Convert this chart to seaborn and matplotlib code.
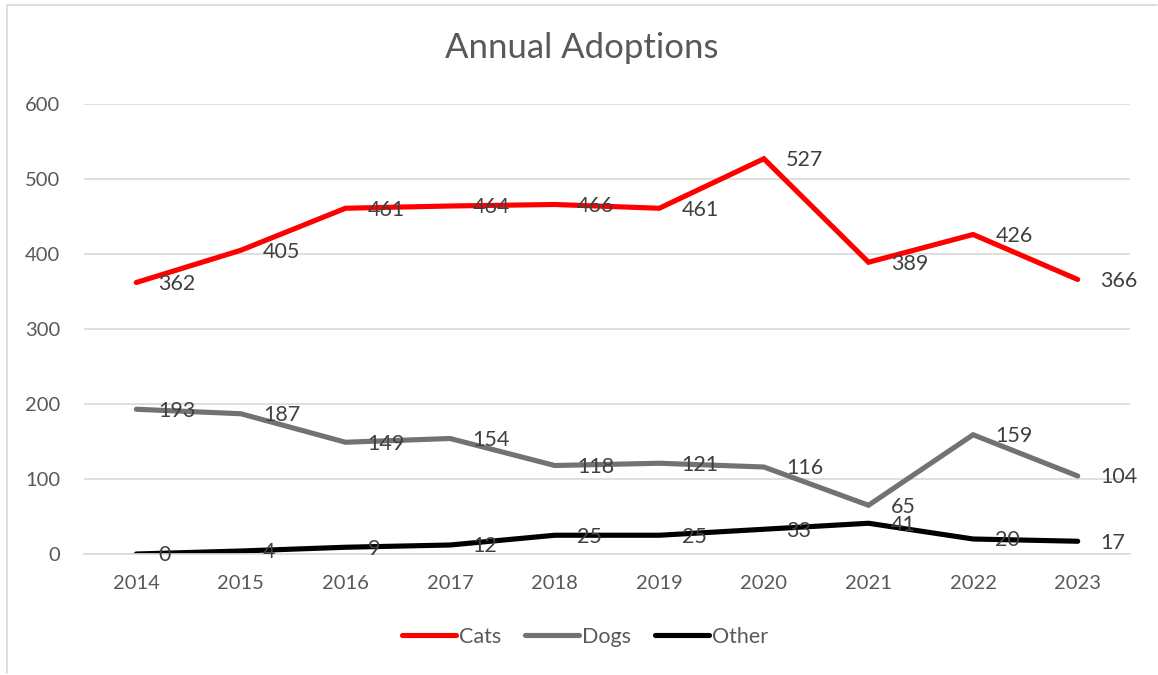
import matplotlib
matplotlib.use("Agg")
import matplotlib.pyplot as plt
import seaborn as sns
import pandas as pd
from matplotlib.lines import Line2D

years = ["2014", "2015", "2016", "2017", "2018", "2019", "2020", "2021", "2022", "2023"]
cats = [362, 405, 461, 464, 466, 461, 527, 389, 426, 366]
dogs = [193, 187, 149, 154, 118, 121, 116, 65, 159, 104]
other = [0, 4, 9, 12, 25, 25, 33, 41, 20, 17]
series_names = ["Cats", "Dogs", "Other"]
colors = ["#FF0000", "#767171", "#000000"]
y_ticks = [0, 100, 200, 300, 400, 500, 600]

sns.set_theme(style="white")
plt.rcParams["font.family"] = ["Lato", "DejaVu Sans"]

W, H = 1158, 675
fig = plt.figure(figsize=(W / 100, H / 100), dpi=100)
ax = fig.add_axes([84 / W, 1 - 554 / H, (1130 - 84) / W, (554 - 104) / H])

rows = []
for name, vals in zip(series_names, [cats, dogs, other]):
    for i, v in enumerate(vals):
        rows.append({"idx": i, "value": v, "series": name})
df = pd.DataFrame(rows)

sns.lineplot(data=df, x="idx", y="value", hue="series", palette=colors,
             linewidth=3.7, ax=ax, legend=False, sort=False)
for ln in ax.get_lines():
    ln.set_solid_capstyle("round")
    ln.set_solid_joinstyle("miter")

for vals in [cats, dogs, other]:
    for i, v in enumerate(vals):
        ax.annotate(str(v), (i, v), xytext=(16, -1), textcoords="offset points",
                    ha="left", va="center", fontsize=15.5, color="#404040")

ax.set_xlim(-0.5, len(years) - 0.5)
ax.set_ylim(0, 600)
ax.set_yticks(y_ticks)
ax.set_yticklabels([str(t) for t in y_ticks])
ax.set_xticks(range(len(years)))
ax.set_xticklabels(years)
ax.tick_params(axis="both", length=0, labelsize=14.5, labelcolor="#595959")
ax.tick_params(axis="y", pad=17)
ax.tick_params(axis="x", pad=15)
ax.grid(axis="y", color="#D9D9D9", linewidth=1.2)
ax.set_axisbelow(True)
for s in ["top", "right", "left"]:
    ax.spines[s].set_visible(False)
ax.spines["bottom"].set_color("#D9D9D9")
ax.spines["bottom"].set_linewidth(1.2)
ax.set_xlabel("")
ax.set_ylabel("")

fig.text(582 / W, 1 - 48 / H, "Annual Adoptions", ha="center", va="center",
         fontsize=25, color="#595959")

handles = [Line2D([0], [0], color=c, linewidth=3.7, solid_capstyle="round") for c in colors]
fig.legend(handles, series_names, loc="center", bbox_to_anchor=(585 / W, 1 - 637 / H),
           ncol=3, frameon=False, fontsize=15.5, handlelength=2.5, handletextpad=0.15,
           columnspacing=1.1, labelcolor="#595959")

fig.add_artist(Line2D([7 / W, 7 / W], [1 - 5 / H, 1 - 673 / H], transform=fig.transFigure,
                      color="#D9D9D9", linewidth=1.2))
fig.add_artist(Line2D([7 / W, 1 - 1 / W], [1 - 5 / H, 1 - 5 / H], transform=fig.transFigure,
                      color="#D9D9D9", linewidth=1.2))

fig.savefig("out.png", dpi=100, facecolor="white")
